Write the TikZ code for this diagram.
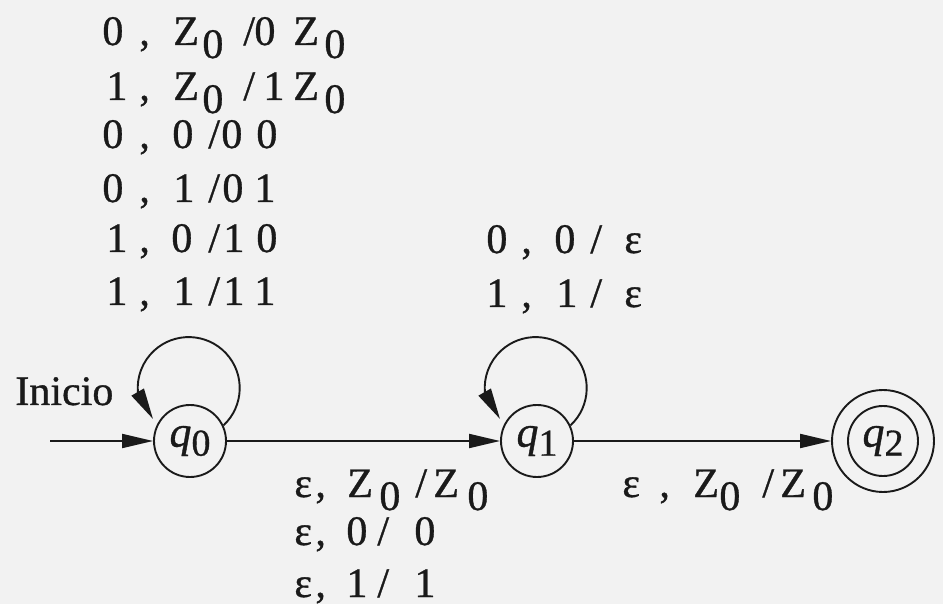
\documentclass[tikz,border=0pt]{standalone}
\usepackage{fontspec}
\setmainfont{Liberation Serif}[FakeBold=0.8]
\usetikzlibrary{arrows.meta}
\newdimen\unitpx \unitpx=0.5pt
\newcommand\gl[2]{\rlap{\hspace*{#1\unitpx}#2}}
\newcommand\lo[1]{\raisebox{-6.5pt}{#1}}
\newcommand\qs[1]{\textit{q}\raisebox{-4.5pt}{\fontsize{19}{19}\selectfont #1}}
\definecolor{paper}{HTML}{F2F2F2}
\definecolor{ink}{HTML}{1A1A1A}
\begin{document}
\begin{tikzpicture}[x=0.5pt,y=-0.5pt,
  lbl/.style={anchor=base west, inner sep=0pt, text=ink, font=\fontsize{21}{22}\selectfont},
  state/.style={circle, draw=ink, line width=0.95pt, minimum size=36pt, inner sep=0pt, text=ink, font=\fontsize{22}{22}\selectfont},
  arr/.style={draw=ink, line width=0.95pt, -{Triangle[length=15.5pt,width=7pt]}}]
\fill[paper] (0,0) rectangle (943,604);
\useasboundingbox (0,0) rectangle (943,604);

% states
\node[state] (q0) at (190,441) {\qs{0}};
\node[state] (q1) at (537,441) {\qs{1}};
\node[state, minimum size=51pt] (q2) at (883,441) {\qs{2}};
\draw[ink, line width=0.95pt] (q2.center) circle[radius=17.5pt];

% start
\node[lbl, font=\fontsize{21}{22}\selectfont] (ini) at (15,405) {Inicio};
\coordinate (s) at (50,441);
\draw[arr] (s) -- (q0);

% transitions
\draw[arr] (q0) -- (q1);
\draw[arr] (q1) -- (q2);
\draw[arr] (q0.25) arc[start angle=-47, end angle=185, radius=25.5pt]
  -- ([shift={(-18.5pt,11pt)}]q0.center);
\draw[arr] (q1.25) arc[start angle=-47, end angle=185, radius=25.5pt]
  -- ([shift={(-18.5pt,11pt)}]q1.center);

% labels of loop on q0
\node[lbl] (a1) at (102,45)  {\gl{0}{0}\gl{37}{,}\gl{71}{Z}\gl{100}{\lo{0}}\gl{141}{/}\gl{152}{0}\gl{191}{Z}\gl{222}{\lo{0}}\hspace*{246\unitpx}};
\node[lbl] (a2) at (102,100) {\gl{4}{1}\gl{37}{,}\gl{71}{Z}\gl{100}{\lo{0}}\gl{141}{/}\gl{161}{1}\gl{191}{Z}\gl{222}{\lo{0}}\hspace*{246\unitpx}};
\node[lbl] (a3) at (102,148) {\gl{0}{0}\gl{37}{,}\gl{70}{0}\gl{106}{/}\gl{119}{0}\gl{154}{0}\hspace*{176\unitpx}};
\node[lbl] (a4) at (102,202) {\gl{0}{0}\gl{37}{,}\gl{71}{1}\gl{106}{/}\gl{120}{0}\gl{152}{1}\hspace*{176\unitpx}};
\node[lbl] (a5) at (102,252) {\gl{4}{1}\gl{37}{,}\gl{69}{0}\gl{106}{/}\gl{121}{1}\gl{154}{0}\hspace*{176\unitpx}};
\node[lbl] (a6) at (102,305) {\gl{4}{1}\gl{37}{,}\gl{71}{1}\gl{106}{/}\gl{121}{1}\gl{152}{1}\hspace*{176\unitpx}};

% labels of loop on q1
\node[lbl] (b1) at (486,253) {\gl{0}{0}\gl{35}{,}\gl{68}{0}\gl{104}{/}\gl{138}{ε}\hspace*{156\unitpx}};
\node[lbl] (b2) at (486,307) {\gl{0}{1}\gl{35}{,}\gl{70}{1}\gl{104}{/}\gl{138}{ε}\hspace*{156\unitpx}};

% labels q0 -> q1
\node[lbl] (c1) at (294,497) {\gl{0}{ε}\gl{21}{,}\gl{53}{Z}\gl{85}{\lo{0}}\gl{121}{/}\gl{139}{Z}\gl{173}{\lo{0}}\hspace*{192\unitpx}};
\node[lbl] (c2) at (294,545) {\gl{0}{ε}\gl{21}{,}\gl{52}{0}\gl{83}{/}\gl{120}{0}\hspace*{140\unitpx}};
\node[lbl] (c3) at (294,597) {\gl{0}{ε}\gl{21}{,}\gl{52}{1}\gl{83}{/}\gl{120}{1}\hspace*{140\unitpx}};

% label q1 -> q2
\node[lbl] (d1) at (622,497) {\gl{0}{ε}\gl{37}{,}\gl{71}{Z}\gl{97}{\lo{0}}\gl{140}{/}\gl{158}{Z}\gl{190}{\lo{0}}\hspace*{210\unitpx}};
\end{tikzpicture}
\end{document}
